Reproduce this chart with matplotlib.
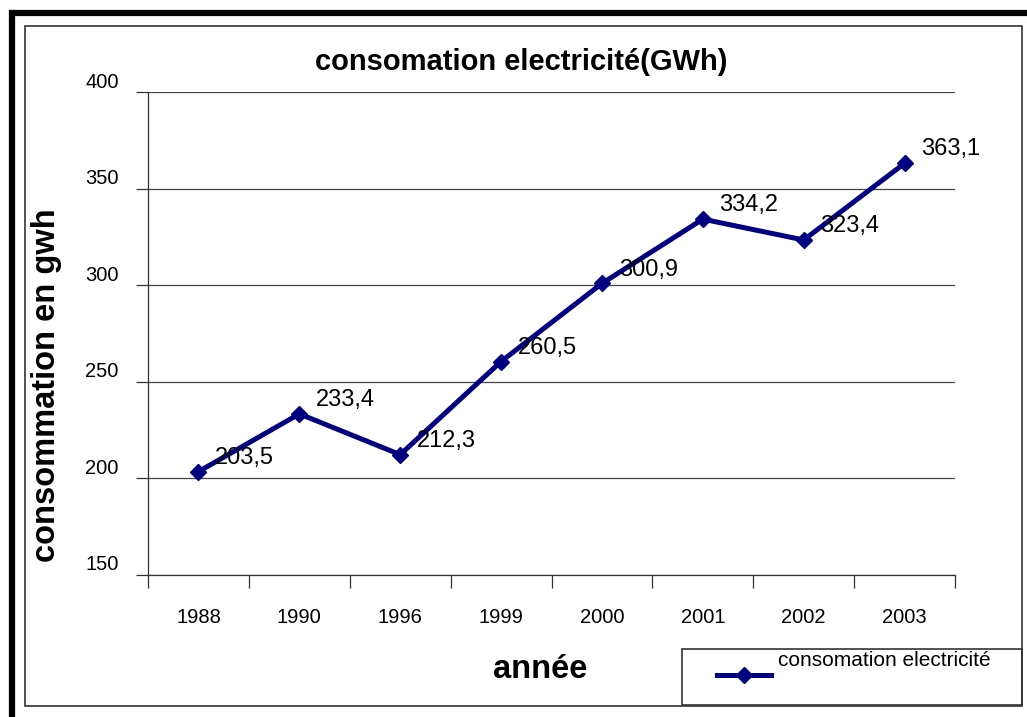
import matplotlib.pyplot as plt
from matplotlib.patches import Rectangle
from matplotlib.lines import Line2D
from matplotlib.transforms import ScaledTranslation

plt.rcParams['font.family'] = ['Liberation Sans', 'DejaVu Sans']

# data
years = ['1988', '1990', '1996', '1999', '2000', '2001', '2002', '2003']
consumption = [203.5, 233.4, 212.3, 260.5, 300.9, 334.2, 323.4, 363.1]
value_labels = ['203,5', '233,4', '212,3', '260,5', '300,9', '334,2', '323,4', '363,1']
y_ticks = [150, 200, 250, 300, 350, 400]

W, H = 1027, 717
fig = plt.figure(figsize=(W / 100, H / 100), dpi=100)

# outer thick frame (left and top) and thin inner frame
fig.add_artist(Line2D([9 / W, 1], [1 - 13 / H, 1 - 13 / H], color='black', lw=4.5,
                      transform=fig.transFigure, solid_capstyle='butt'))
fig.add_artist(Line2D([12 / W, 12 / W], [0, 1 - 10 / H], color='black', lw=4.5,
                      transform=fig.transFigure, solid_capstyle='butt'))
fig.add_artist(Rectangle((25 / W, 1 - 706 / H), (1022 - 25) / W, (706 - 26) / H,
                         transform=fig.transFigure, fill=False, edgecolor='#333333', lw=1.2))

ax = fig.add_axes([148 / W, 1 - 575 / H, (955 - 148) / W, (575 - 92) / H])
x = list(range(len(years)))
line, = ax.plot(x, consumption, color='#000080', lw=3.6, marker='D', markersize=8)

for xi, v, lab in zip(x, consumption, value_labels):
    ax.annotate(lab, (xi, v), xytext=(12, 10), textcoords='offset points',
                ha='left', va='center', fontsize=17)

ax.set_xlim(-0.5, len(years) - 0.5)
ax.set_ylim(150, 400)
ax.set_yticks(y_ticks)
ax.yaxis.grid(True, color='#444444', lw=0.9)
ax.set_axisbelow(True)

ax.set_xticks(x)
ax.set_xticklabels(years, fontsize=14.5)
ax.set_xticks([i - 0.5 for i in range(len(years) + 1)], minor=True)
ax.tick_params(axis='x', which='major', length=0, pad=24)
ax.tick_params(axis='x', which='minor', length=9, direction='out', width=0.9, color='#333333')
ax.tick_params(axis='y', length=9, direction='out', width=0.9, color='#333333',
               labelsize=14.5, pad=12)
for lbl in ax.get_yticklabels():
    lbl.set_transform(lbl.get_transform() + ScaledTranslation(0, 12 / 100, fig.dpi_scale_trans))

for s in ['top', 'right']:
    ax.spines[s].set_visible(False)
for s in ['left', 'bottom']:
    ax.spines[s].set_color('#333333')
    ax.spines[s].set_linewidth(0.9)

fig.text(521 / W, 1 - 62 / H, 'consomation electricité(GWh)', ha='center', va='center',
         fontsize=21, fontweight='bold')
fig.text(47 / W, 1 - 385 / H, 'consommation en gwh', ha='center', va='center',
         rotation=90, fontsize=23.5, fontweight='bold')
fig.text(540 / W, 1 - 670 / H, 'année', ha='center', va='center',
         fontsize=23.5, fontweight='bold')

# legend box
fig.add_artist(Rectangle((682 / W, 1 - 705 / H), (1022 - 682) / W, (705 - 649) / H,
                         transform=fig.transFigure, fill=False, edgecolor='#333333', lw=1.2))
leg = fig.legend([line], ['consomation electricité'], loc='center left',
                 bbox_to_anchor=(717 / W, 1 - 677 / H), frameon=False, fontsize=15,
                 handlelength=2.6, handletextpad=0.33, borderpad=0, borderaxespad=0)
for t in leg.get_texts():
    t.set_transform(t.get_transform() + ScaledTranslation(0, 16 / 100, fig.dpi_scale_trans))

fig.savefig('out.png', dpi=100)
